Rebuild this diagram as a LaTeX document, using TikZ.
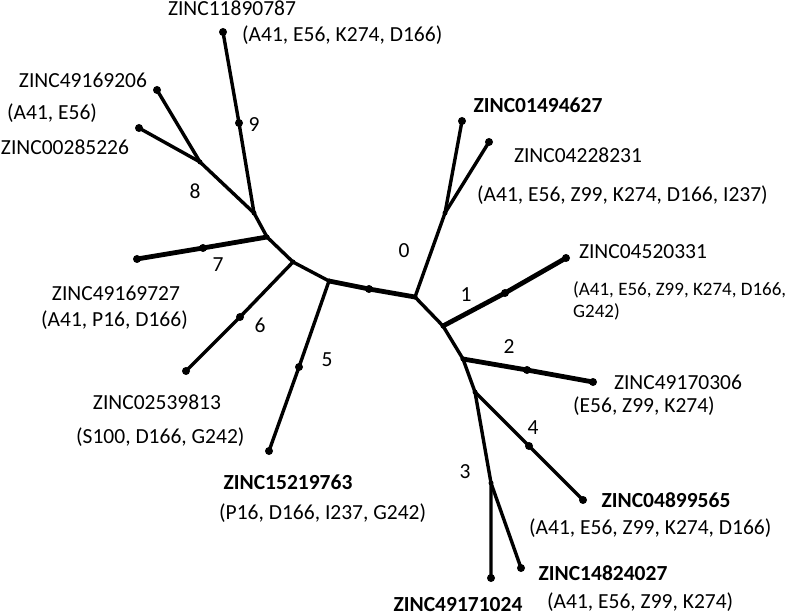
\documentclass[tikz,border=0pt]{standalone}
\usepackage{fontspec}
\setmainfont{Carlito}
\usetikzlibrary{positioning}

\begin{document}
\begin{tikzpicture} [x=1pt, y=-1pt,
                tip/.style = {circle, fill, inner sep=0pt, minimum size=8pt},
                knot/.style = {circle, fill, inner sep=0pt, minimum size=5pt},
                branch/.style = {line width=3.4pt, line join=round, line cap=round},
                heavy/.style = {branch, line width=4.8pt},
                lbl/.style = {font=\fontsize{21.5}{22}\selectfont, inner sep=0pt},
                hit/.style = {lbl, font=\fontsize{21.5}{22}\selectfont\bfseries},
                small/.style = {lbl, font=\fontsize{19}{22}\selectfont}
            ]
            \useasboundingbox (0,0) rectangle (787,612);
            % inner knots
            \node (a) at (254,213) [knot] {};
            \node (b) at (200,162) [knot] {};
            \node (c) at (267,237) [knot] {};
            \node (d) at (293,262) [knot] {};
            \node (e) at (329,281) [knot] {};
            \node (f) at (415,297) [knot] {};
            \node (g) at (445,213) [knot] {};
            \node (h) at (443,326) [knot] {};
            \node (i) at (463,359) [knot] {};
            \node (j) at (475,392) [knot] {};
            \node (k) at (491,483) [knot] {};
            \node (mt) at (369,289) [tip] {};
            \node (m9) at (239,123) [tip] {};
            \node (m7) at (203,248) [tip] {};
            \node (m6) at (240,317) [tip] {};
            \node (m5) at (299,367) [tip] {};
            \node (m1) at (505,293) [tip] {};
            \node (m2) at (527,370) [tip] {};
            \node (m4) at (529,446) [tip] {};
            % leaves
            \node (z11890787) at (223,32) [tip] {};
            \node (z49169206) at (157,90) [tip] {};
            \node (z00285226) at (139,128) [tip] {};
            \node (z49169727) at (137,259) [tip] {};
            \node (z02539813) at (186,371) [tip] {};
            \node (z15219763) at (269,451) [tip] {};
            \node (z01494627) at (462,121) [tip] {};
            \node (z04228231) at (489,142) [tip] {};
            \node (z04520331) at (566,258) [tip] {};
            \node (z49170306) at (593,382) [tip] {};
            \node (z04899565) at (583,500) [tip] {};
            \node (z49171024) at (491,578) [tip] {};
            \node (z14824027) at (521,568) [tip] {};
            % branches
            \draw [branch] (z11890787.center) -- (m9.center) -- (a.center);
            \draw [branch] (z49169206.center) -- (b.center);
            \draw [branch] (z00285226.center) -- (b.center) -- (a.center) -- (c.center) -- (d.center) -- (e.center);
            \draw [heavy] (c.center) -- (m7.center) -- (z49169727.center);
            \draw [branch] (d.center) -- (m6.center) -- (z02539813.center);
            \draw [branch] (e.center) -- (m5.center) -- (z15219763.center);
            \draw [heavy] (e.center) -- (mt.center) -- (f.center);
            \draw [branch] (f.center) -- (g.center) -- (z01494627.center);
            \draw [branch] (g.center) -- (z04228231.center);
            \draw [branch] (f.center) -- (h.center) -- (i.center) -- (j.center) -- (k.center) -- (z49171024.center);
            \draw [heavy] (h.center) -- (m1.center) -- (z04520331.center);
            \draw [heavy] (i.center) -- (m2.center) -- (z49170306.center);
            \draw [branch] (j.center) -- (m4.center) -- (z04899565.center);
            \draw [branch] (k.center) -- (z14824027.center);
            % branch numbers
            \node (n0) at (404,251) [lbl] {0};
            \node (n1) at (466,295) [lbl] {1};
            \node (n2) at (509,347) [lbl] {2};
            \node (n3) at (465,472) [lbl] {3};
            \node (n4) at (533,428) [lbl] {4};
            \node (n5) at (327,360) [lbl] {5};
            \node (n6) at (260,325) [lbl] {6};
            \node (n7) at (218,265) [lbl] {7};
            \node (n8) at (195,191) [lbl] {8};
            \node (n9) at (254,125) [lbl] {9};
            % compound names and residues
            \node (t11890787) at (232,8) [lbl] {ZINC11890787};
            \node (r11890787) at (242,35) [lbl, anchor=west] {(A41, E56, K274, D166)};
            \node (t49169206) at (83,80) [lbl] {ZINC49169206};
            \node (r49169206) at (7,113) [lbl, anchor=west] {(A41, E56)};
            \node (t00285226) at (65,147) [lbl] {ZINC00285226};
            \node (t49169727) at (116,293) [lbl] {ZINC49169727};
            \node (r49169727) at (41,320) [lbl, anchor=west] {(A41, P16, D166)};
            \node (t02539813) at (157,402) [lbl] {ZINC02539813};
            \node (r02539813) at (76,437) [lbl, anchor=west] {(S100, D166, G242)};
            \node (t15219763) at (288,482) [hit] {ZINC15219763};
            \node (r15219763) at (219,513) [lbl, anchor=west] {(P16, D166, I237, G242)};
            \node (t01494627) at (538,105) [hit] {ZINC01494627};
            \node (t04228231) at (578,155) [lbl] {ZINC04228231};
            \node (r04228231) at (477,195) [lbl, anchor=west] {(A41, E56, Z99, K274, D166, I237)};
            \node (t04520331) at (643,252) [lbl] {ZINC04520331};
            \node (r04520331) at (573,301) [small, anchor=west, align=left] {(A41, E56, Z99, K274, D166,\\G242)};
            \node (t49170306) at (678,382) [lbl] {ZINC49170306};
            \node (r49170306) at (573,406) [lbl, anchor=west] {(E56, Z99, K274)};
            \node (t04899565) at (666,500) [hit] {ZINC04899565};
            \node (r04899565) at (529,528) [lbl, anchor=west] {(A41, E56, Z99, K274, D166)};
            \node (t14824027) at (603,573) [hit] {ZINC14824027};
            \node (r14824027) at (547,602) [lbl, anchor=west] {(A41, E56, Z99, K274)};
            \node (t49171024) at (458,605) [hit] {ZINC49171024};
        \end{tikzpicture}
\end{document}
